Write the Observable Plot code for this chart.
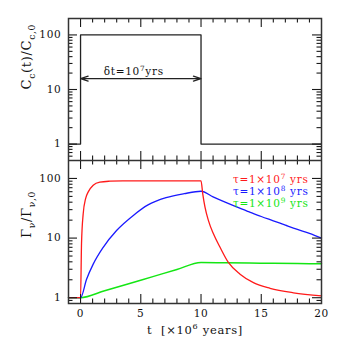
<!DOCTYPE html>
<html><head><meta charset="utf-8">
<script src="https://cdn.jsdelivr.net/npm/d3@7"></script>
<script src="https://cdn.jsdelivr.net/npm/@observablehq/plot@0.6"></script>
<style>
body{margin:0;background:#fff}
#chart{position:relative;width:339px;height:339px}
#chart svg{display:block}
#chart text{letter-spacing:0.7px}
</style>
</head><body><div id="chart"></div>
<script>
// ---- data ----
const xDomain = [-1, 20];
const xTicksMajor = [0, 5, 10, 15, 20];
const xTicksMinor = [1, 2, 3, 4, 6, 7, 8, 9, 11, 12, 13, 14, 16, 17, 18, 19];
const yTicksMajor = [1, 10, 100];
const yTicksMinor = [0.6, 0.7, 0.8, 0.9, 2, 3, 4, 5, 6, 7, 8, 9, 20, 30, 40, 50, 60, 70, 80, 90, 200];

// top panel: step in C_c(t)/C_c,0
const stepT = [-1, 0, 0, 10, 10, 20];
const stepC = [1, 1, 100, 100, 1, 1];
const arrowStart = 0, arrowEnd = 10, arrowLevel = 15.8;
const arrowLabel = "δt=10^{7}yrs";

// bottom panel: Γν/Γν,0 curves
const redT = [-1, 0, 0.08, 0.22, 0.42, 0.64, 1.05, 1.6, 2.44, 3.5, 5, 7, 9, 10, 10.14, 10.33, 10.61, 11.03, 11.58, 12.27, 13.24, 14.35, 15.73, 17.67, 20];
const redV = [1, 1, 8, 25.6, 45.9, 59.5, 77, 86.7, 90, 91.3, 91.4, 91.4, 91.4, 91.4, 55.8, 33, 19.8, 11.8, 7, 3.9, 2.48, 1.79, 1.44, 1.21, 1.07];
const blueT = [-1, 0, 0.5, 1.05, 1.88, 2.99, 4.38, 5.6, 7.1, 8.6, 10, 11, 12, 13, 14, 15, 16, 17, 18, 19, 20];
const blueV = [1, 1, 2.04, 3.66, 7, 13.4, 24, 36, 47.5, 55.5, 61, 49, 40, 33, 27.5, 23, 19.5, 16.5, 14, 12, 10];
const greenT = [-1, 0, 2, 4, 6, 8, 10, 12, 14, 16, 18, 20];
const greenV = [1, 1, 1.31, 1.72, 2.26, 2.97, 3.9, 3.86, 3.82, 3.78, 3.74, 3.7];
const seriesNames = ["τ=1×10^{7} yrs", "τ=1×10^{8} yrs", "τ=1×10^{9} yrs"];
const seriesColors = ["#ff1a1a", "#1a1aff", "#14e614"];

const topLabel = "C_{c}(t)/C_{c,0}";
const bottomLabel = "Γ_{ν}/Γ_{ν,0}";
const xLabel = "t  [×10^{6} years]";

// ---- helpers ----
const font = "DejaVu Serif";
const fs = 10.5;
const ink = "#222";
const W = 339, ML = 68, MR = 18;
const frameW = W - ML - MR;

function pts(t, v) { return t.map((d, i) => ({t: d, v: v[i]})); }

function frameTicks(yDomain, frameH) {
  const inY = a => a.filter(d => d > yDomain[0] && d < yDomain[1]);
  const inX = a => a.filter(d => d > xDomain[0] && d < xDomain[1]);
  const o = {stroke: "#1a1a1a", strokeWidth: 1.1};
  const big = 9, small = 4.5;
  return [
    Plot.tickX(inX(xTicksMajor), {...o, x: d => d, insetTop: frameH - big}),
    Plot.tickX(inX(xTicksMinor), {...o, x: d => d, insetTop: frameH - small}),
    Plot.tickX(inX(xTicksMajor), {...o, x: d => d, insetBottom: frameH - big}),
    Plot.tickX(inX(xTicksMinor), {...o, x: d => d, insetBottom: frameH - small}),
    Plot.tickY(inY(yTicksMajor), {...o, y: d => d, insetRight: frameW - big}),
    Plot.tickY(inY(yTicksMinor), {...o, y: d => d, insetRight: frameW - small}),
    Plot.tickY(inY(yTicksMajor), {...o, y: d => d, insetLeft: frameW - big}),
    Plot.tickY(inY(yTicksMinor), {...o, y: d => d, insetLeft: frameW - small}),
    Plot.axisY(inY(yTicksMajor), {anchor: "left", tickSize: 0, tickPadding: 7, label: null, fill: "#111", tickFormat: d => String(d)}),
    Plot.frame({stroke: "#333", strokeWidth: 1.5})
  ];
}

function richify(svg) {
  d3.select(svg).selectAll("text").each(function () {
    const s = this.textContent;
    if (!/[_^]\{/.test(s)) return;
    const f = parseFloat(getComputedStyle(this).fontSize) || fs;
    const parts = s.split(/([_^]\{[^}]*\})/).filter(p => p !== "");
    this.textContent = "";
    let shift = 0;
    for (const p of parts) {
      const ts = d3.select(this).append("tspan");
      let target = 0, txt = p, sm = false;
      if (p.startsWith("_{")) { target = f * 0.33; txt = p.slice(2, -1); sm = true; }
      else if (p.startsWith("^{")) { target = -f * 0.4; txt = p.slice(2, -1); sm = true; }
      const dy = target - shift; shift = target;
      if (dy) ts.attr("dy", dy);
      if (sm) ts.attr("font-size", f * 0.7);
      ts.text(txt);
    }
  });
}

const style = {fontFamily: font, fontSize: fs + "px", color: ink, background: "transparent"};

// ---- top panel ----
const topDomain = [0.5, 200];
const topH = 160, topMT = 18, topMB = 0;
const topPlot = Plot.plot({
  width: W, height: topH,
  marginLeft: ML, marginRight: MR, marginTop: topMT, marginBottom: topMB,
  style,
  x: {domain: xDomain, axis: null},
  y: {type: "log", domain: topDomain},
  marks: [
    Plot.line(pts(stepT, stepC), {x: "t", y: "v", stroke: ink, strokeWidth: 1.3}),
    Plot.arrow([{a: (arrowStart + arrowEnd) / 2, b: arrowStart}, {a: (arrowStart + arrowEnd) / 2, b: arrowEnd}],
      {x1: "a", x2: "b", y1: () => arrowLevel, y2: () => arrowLevel, stroke: ink, strokeWidth: 1.2, headLength: 10, headAngle: 36}),
    Plot.text([arrowLabel], {x: () => (arrowStart + arrowEnd) / 2, y: () => arrowLevel, text: d => d, dx: -7, dy: -7, fill: "#111", fontSize: 10.5}),
    Plot.text([topLabel], {frameAnchor: "left", text: d => d, rotate: -90, dx: -42, dy: 0, fill: "#111", fontSize: 13}),
    ...frameTicks(topDomain, topH - topMT - topMB)
  ]
});

// ---- bottom panel ----
const botDomain = [0.8, 200];
const botH = 179, botMT = 0, botMB = 36;
const botPlot = Plot.plot({
  width: W, height: botH,
  marginLeft: ML, marginRight: MR, marginTop: botMT, marginBottom: botMB,
  style,
  x: {domain: xDomain},
  y: {type: "log", domain: botDomain},
  marks: [
    Plot.line(pts(greenT, greenV), {x: "t", y: "v", stroke: seriesColors[2], strokeWidth: 1.5, curve: "monotone-x"}),
    Plot.line(pts(blueT, blueV), {x: "t", y: "v", stroke: seriesColors[1], strokeWidth: 1.3, curve: "monotone-x"}),
    Plot.line(pts(redT, redV), {x: "t", y: "v", stroke: seriesColors[0], strokeWidth: 1.3, curve: "monotone-x"}),
    ...seriesNames.map((n, i) => Plot.text([n], {frameAnchor: "top-right", text: d => d, textAnchor: "end", dx: -13, dy: 15 + 12 * i, fill: seriesColors[i], fontSize: 10.5})),
    Plot.axisX(xTicksMajor, {anchor: "bottom", tickSize: 0, tickPadding: 6.5, label: null, fill: "#111"}),
    Plot.text([bottomLabel], {frameAnchor: "left", text: d => d, rotate: -90, dx: -42, dy: 6, fill: "#111", fontSize: 13}),
    Plot.text([xLabel], {frameAnchor: "bottom", text: d => d, dy: 30, fill: "#111", fontSize: 11.5}),
    ...frameTicks(botDomain, botH - botMT - botMB)
  ]
});

const chart = document.getElementById("chart");
chart.append(topPlot, botPlot);
richify(topPlot); richify(botPlot);
</script>
</body></html>
